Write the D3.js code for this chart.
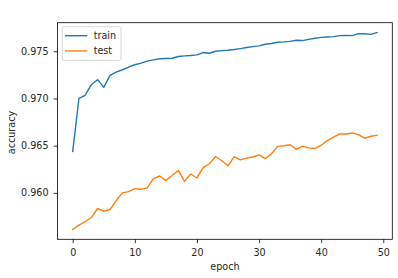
<!DOCTYPE html>
<html>
<head>
<meta charset="utf-8">
<script src="https://cdn.jsdelivr.net/npm/d3@7"></script>
<style>
	body { margin: 0; background: #fff; }
	text { font-family: "DejaVu Sans", sans-serif; fill: #262626; }
</style>
</head>
<body>
<div id="chart"></div>
<script>
// accuracy per epoch
const epochs = d3.range(0, 50)

const trainAcc = [
	0.9644, 0.9700, 0.97034, 0.97146, 0.97199, 0.97118, 0.97244, 0.97279, 0.97304, 0.97332,
	0.97357, 0.97374, 0.97395, 0.97409, 0.97420, 0.97423, 0.97426, 0.97444, 0.97451, 0.97455,
	0.97462, 0.97486, 0.97479, 0.97500, 0.97507, 0.97511, 0.97518, 0.97528, 0.97539, 0.97549,
	0.97557, 0.97574, 0.97582, 0.97595, 0.97599, 0.97605, 0.97616, 0.97613, 0.97626, 0.97637,
	0.97647, 0.97651, 0.97655, 0.97665, 0.97668, 0.97665, 0.97686, 0.97686, 0.97679, 0.97698
]

const testAcc = [
	0.95613, 0.95659, 0.95695, 0.95740, 0.95835, 0.95806, 0.95824, 0.95919, 0.96000, 0.96014,
	0.96045, 0.96038, 0.96053, 0.96151, 0.96179, 0.96130, 0.96185, 0.96238, 0.96122, 0.96200,
	0.96158, 0.96268, 0.96309, 0.96385, 0.96340, 0.96287, 0.96385, 0.96350, 0.96369, 0.96380,
	0.96403, 0.96364, 0.96414, 0.96493, 0.96500, 0.96510, 0.96461, 0.96495, 0.96477, 0.96470,
	0.96505, 0.96554, 0.96590, 0.96624, 0.96624, 0.96635, 0.96617, 0.96579, 0.96600, 0.96611
]

const xTicks = [0, 10, 20, 30, 40, 50]
const yTicks = [0.960, 0.965, 0.970, 0.975]

const seriesNames = ['train', 'test']
const seriesColors = ['#1f77b4', '#ff7f0e']

const width = 398
const height = 278
const margin = {top: 22.7, right: 5.7, bottom: 38.7, left: 57.5}
const plotW = width - margin.left - margin.right
const plotH = height - margin.top - margin.bottom
const fontSize = '9.6px'

const $svg = d3.select('#chart')
	.append('svg')
	.attr('width', width)
	.attr('height', height)

const $g = $svg.append('g')
	.attr('transform', `translate(${margin.left},${margin.top})`)

// matplotlib style 5% padding
const xExt = d3.extent(epochs)
const xPad = (xExt[1] - xExt[0]) * 0.05
const x = d3.scaleLinear()
	.domain([xExt[0] - xPad, xExt[1] + xPad])
	.range([0, plotW])

const allVals = trainAcc.concat(testAcc)
const yExt = d3.extent(allVals)
const yPad = (yExt[1] - yExt[0]) * 0.05
const y = d3.scaleLinear()
	.domain([yExt[0] - yPad, yExt[1] + yPad])
	.range([plotH, 0])

// axes
const xAxis = $g.append('g')
	.attr('transform', `translate(0,${plotH})`)
	.call(d3.axisBottom(x).tickValues(xTicks).tickSize(3.8).tickPadding(6).tickFormat(d3.format('d')))

const yAxis = $g.append('g')
	.call(d3.axisLeft(y).tickValues(yTicks).tickSize(3.8).tickPadding(5.2).tickFormat(d3.format('.3f')))

;[xAxis, yAxis].forEach(ax => {
	ax.select('.domain').remove()
	ax.selectAll('line').attr('stroke', '#000').attr('stroke-width', 0.8)
	ax.selectAll('text').style('font-family', '"DejaVu Sans", sans-serif').style('font-size', fontSize).attr('fill', '#262626')
})

// lines
const line = d3.line()
	.x((d, i) => x(epochs[i]))
	.y(d => y(d))

;[trainAcc, testAcc].forEach((vals, k) => {
	$g.append('path')
		.datum(vals)
		.attr('d', line)
		.attr('fill', 'none')
		.attr('stroke', seriesColors[k])
		.attr('stroke-width', 1.4)
		.attr('stroke-linejoin', 'round')
		.attr('stroke-linecap', 'square')
})

// frame
$g.append('rect')
	.attr('width', plotW)
	.attr('height', plotH)
	.attr('fill', 'none')
	.attr('stroke', '#000')
	.attr('stroke-width', 0.8)

// axis labels
$svg.append('text')
	.attr('x', margin.left + plotW / 2)
	.attr('y', 269.5)
	.attr('text-anchor', 'middle')
	.style('font-size', fontSize)
	.text('epoch')

$svg.append('text')
	.attr('transform', `translate(14.5,${margin.top + plotH / 2 + 1.5}) rotate(-90)`)
	.attr('text-anchor', 'middle')
	.style('font-size', fontSize)
	.text('accuracy')

// legend
const $legend = $g.append('g')
	.attr('transform', 'translate(4.8,4)')

$legend.append('rect')
	.attr('width', 58.7)
	.attr('height', 33.6)
	.attr('rx', 2)
	.attr('fill', '#fff')
	.attr('fill-opacity', 0.8)
	.attr('stroke', '#ccc')
	.attr('stroke-width', 0.8)

seriesNames.forEach((name, k) => {
	const row = $legend.append('g')
		.attr('transform', `translate(0,${9 + k * 15.3})`)
	row.append('line')
		.attr('x1', 2.7)
		.attr('x2', 25)
		.attr('stroke', seriesColors[k])
		.attr('stroke-width', 1.4)
	row.append('text')
		.attr('x', 31.4)
		.attr('dy', '0.35em')
		.style('font-size', fontSize)
		.text(name)
})
</script>
</body>
</html>
